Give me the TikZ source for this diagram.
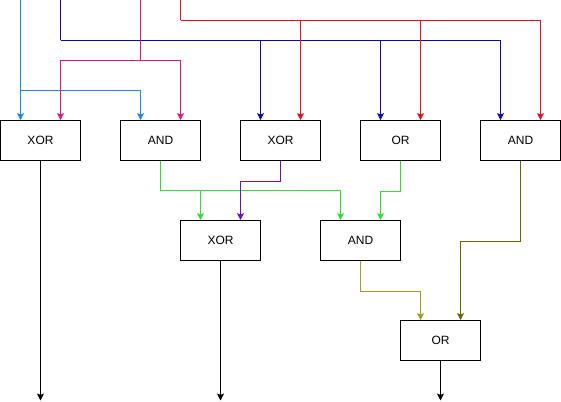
\documentclass[tikz,border=0pt]{standalone}
\usepackage{fontspec}
\setmainfont{Liberation Sans}
\usetikzlibrary{arrows.meta}
\definecolor{cyanc}{HTML}{1E88E5}
\definecolor{magc}{HTML}{E0147A}
\definecolor{navyc}{HTML}{0A0AAA}
\definecolor{redc}{HTML}{DD1122}
\definecolor{grnc}{HTML}{33DD33}
\definecolor{purpc}{HTML}{6A10CC}
\definecolor{olivedk}{HTML}{666600}
\definecolor{olivelt}{HTML}{A0A020}
\begin{document}
\begin{tikzpicture}[x=1pt,y=-1pt,
  gate/.style={draw,line width=0.8pt,minimum width=80pt,minimum height=40pt,inner sep=0pt,font=\fontsize{12}{14}\selectfont},
  wireline/.style={line width=0.8pt},
  wire/.style={wireline,-{Stealth[length=7pt,width=7pt,inset=1.5pt]}},
]
\useasboundingbox (-0.5,-0.5) rectangle (560.5,400.5);
% gates
\node[gate] (a1) at (40,140) {XOR};
\node[gate] (a2) at (160,140) {AND};
\node[gate] (a3) at (280,140) {XOR};
\node[gate] (a4) at (400,140) {OR};
\node[gate] (a5) at (520,140) {AND};
\node[gate] (b1) at (220,240) {XOR};
\node[gate] (b2) at (360,240) {AND};
\node[gate] (c1) at (440,340) {OR};
% input coordinates
\coordinate (iC) at (20,-1);
\coordinate (iB) at (60,-1);
\coordinate (iM) at (140,-1);
\coordinate (iR) at (180,-1);
\coordinate (jC) at (20,90);
\coordinate (jB) at (60,40);
\coordinate (jM) at (140,60);
\coordinate (jR) at (180,20);
% outputs
\coordinate (o1) at (40,400);
\coordinate (o2) at (220,400);
\coordinate (o3) at (440,400);
% cyan
\draw[wire,cyanc] (iC) -- (a1.north -| iC);
\draw[wire,cyanc] (jC) -| ([xshift=-20pt]a2.north);
% magenta
\draw[wireline,magc] (iM) -- (jM);
\draw[wire,magc] (jM) -| ([xshift=20pt]a1.north);
\draw[wire,magc] (jM) -| ([xshift=20pt]a2.north);
% navy
\draw[wireline,navyc] (iB) -- (jB);
\draw[wire,navyc] (jB) -| ([xshift=-20pt]a3.north);
\draw[wire,navyc] (jB) -| ([xshift=-20pt]a4.north);
\draw[wire,navyc] (jB) -| ([xshift=-20pt]a5.north);
% red
\draw[wireline,redc] (iR) -- (jR);
\draw[wire,redc] (jR) -| ([xshift=20pt]a3.north);
\draw[wire,redc] (jR) -| ([xshift=20pt]a4.north);
\draw[wire,redc] (jR) -| ([xshift=20pt]a5.north);
% second level
\coordinate (jG) at (160,190);
\draw[wireline,grnc] (a2.south) -- (jG);
\draw[wire,grnc] (jG) -| ([xshift=-20pt]b1.north);
\draw[wire,grnc] (jG) -| ([xshift=-20pt]b2.north);
\draw[wire,purpc] (a3.south) -- ++(0,20) -| ([xshift=20pt]b1.north);
\draw[wire,grnc] (a4.south) -- ++(0,30) -| ([xshift=20pt]b2.north);
\draw[wire,olivedk] (a5.south) -- ++(0,80) -| ([xshift=20pt]c1.north);
\draw[wire,olivelt] (b2.south) -- ++(0,30) -| ([xshift=-20pt]c1.north);
% outputs
\draw[wire] (a1.south) -- (o1);
\draw[wire] (b1.south) -- (o2);
\draw[wire] (c1.south) -- (o3);
\end{tikzpicture}
\end{document}
